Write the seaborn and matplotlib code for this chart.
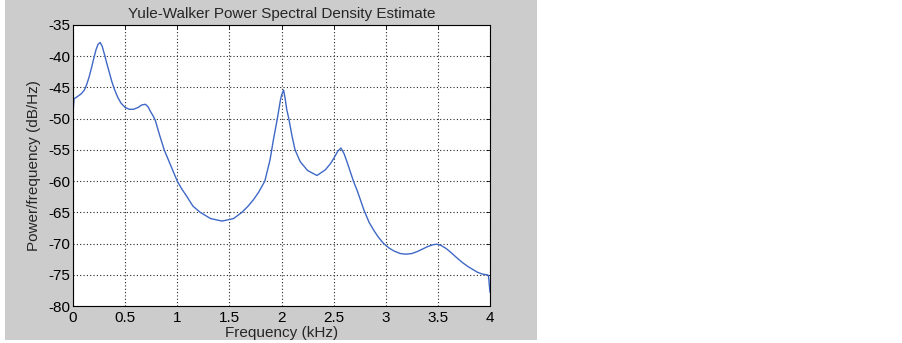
import numpy as np
import pandas as pd
import matplotlib
matplotlib.use("Agg")
import matplotlib.pyplot as plt
from matplotlib.patches import Rectangle
import seaborn as sns

# Values
freq_khz = [0.0, 0.01, 0.04, 0.08, 0.11, 0.13, 0.155, 0.18, 0.20, 0.22, 0.24,
            0.26, 0.28, 0.30, 0.325, 0.35, 0.375, 0.40, 0.43, 0.46, 0.50, 0.54,
            0.58, 0.625, 0.66, 0.695, 0.72, 0.745, 0.77, 0.79, 0.83, 0.875,
            0.93, 1.0, 1.045, 1.09, 1.15, 1.22, 1.32, 1.43, 1.54, 1.62, 1.68,
            1.73, 1.78, 1.84, 1.89, 1.92, 1.96, 1.99, 2.0, 2.02, 2.035, 2.05,
            2.07, 2.10, 2.13, 2.18, 2.25, 2.34, 2.42, 2.47, 2.50, 2.54, 2.57,
            2.60, 2.63, 2.66, 2.69, 2.73, 2.79, 2.84, 2.89, 2.93, 2.98, 3.03,
            3.08, 3.14, 3.19, 3.25, 3.30, 3.35, 3.40, 3.45, 3.49, 3.53, 3.58,
            3.63, 3.69, 3.74, 3.79, 3.84, 3.88, 3.93, 3.97, 3.985, 4.0]
psd_db = [-49.1, -46.8, -46.5, -46.0, -45.4, -44.6, -43.3, -41.7, -40.3, -39.0,
          -38.1, -37.8, -38.4, -39.6, -41.2, -42.7, -44.2, -45.4, -46.6, -47.5,
          -48.2, -48.5, -48.5, -48.2, -47.8, -47.7, -48.1, -48.9, -49.6, -50.3,
          -52.6, -55.0, -57.2, -60.0, -61.3, -62.4, -64.0, -65.0, -66.0, -66.4,
          -66.0, -65.0, -64.0, -63.0, -61.8, -60.0, -56.6, -53.6, -50.0, -47.0,
          -46.3, -45.4, -46.8, -48.5, -50.0, -52.7, -55.0, -56.9, -58.3, -59.1,
          -58.2, -57.2, -56.4, -55.2, -54.7, -55.6, -57.0, -58.5, -60.0, -61.7,
          -64.6, -66.6, -68.0, -69.0, -70.0, -70.7, -71.2, -71.6, -71.7, -71.6,
          -71.3, -70.9, -70.5, -70.2, -70.1, -70.3, -70.8, -71.5, -72.4, -73.1,
          -73.7, -74.2, -74.6, -74.9, -75.0, -75.1, -77.8]

x_ticks = [0, 0.5, 1, 1.5, 2, 2.5, 3, 3.5, 4]
x_tick_labels = ["0", "0.5", "1", "1.5", "2", "2.5", "3", "3.5", "4"]
y_ticks = [-80, -75, -70, -65, -60, -55, -50, -45, -40, -35]

df = pd.DataFrame({"Frequency": freq_khz, "PSD": psd_db})

sns.set_style("white")
plt.rcParams["font.family"] = ["Liberation Sans", "DejaVu Sans"]

fig = plt.figure(figsize=(9.03, 3.43), dpi=100)
fig.patch.set_facecolor("white")
# grey MATLAB-style figure panel, kept behind the axes
fig.add_artist(Rectangle((5 / 903, 3 / 343), 532 / 903, 340 / 343,
                         transform=fig.transFigure, facecolor="#cccccc",
                         edgecolor="none", zorder=-10))

ax = fig.add_axes([73 / 903, 1 - 306 / 343, 417 / 903, 281 / 343])
ax.set_facecolor("white")

sns.lineplot(data=df, x="Frequency", y="PSD", ax=ax, color="#3f68c6",
             linewidth=1.0, estimator=None, sort=False)

ax.set_xlim(0, 4)
ax.set_ylim(-80, -35)
ax.set_xticks(x_ticks)
ax.set_xticklabels(x_tick_labels)
ax.set_yticks(y_ticks)
ax.set_yticklabels([str(v) for v in y_ticks])

ax.grid(True, color="0.15", linestyle=(0, (1, 2)), linewidth=0.8)
ax.set_axisbelow(True)
for s in ax.spines.values():
    s.set_visible(True)
    s.set_color("black")
    s.set_linewidth(0.8)

ax.tick_params(axis="both", direction="in", length=3, width=0.6,
               labelsize=11, colors="black", top=True, right=True)
ax.tick_params(axis="x", pad=3.5)
ax.tick_params(axis="y", pad=2)

ax.set_title("Yule-Walker Power Spectral Density Estimate", fontsize=11, pad=5)
ax.set_xlabel("Frequency (kHz)", fontsize=11, labelpad=1)
ax.set_ylabel("Power/frequency (dB/Hz)", fontsize=11, labelpad=5)

fig.savefig("out.png", dpi=100)
